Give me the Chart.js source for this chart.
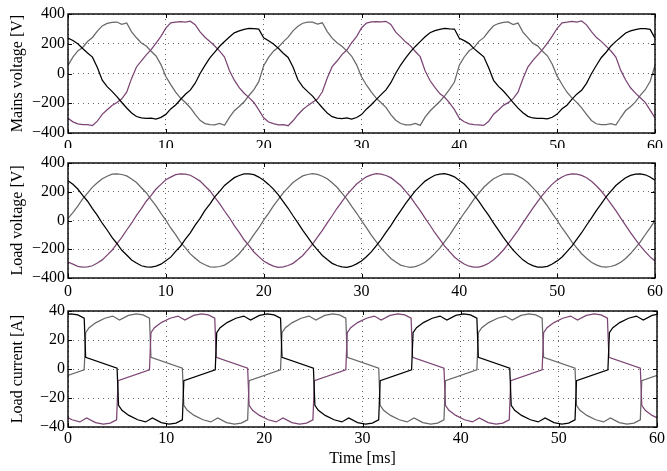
<!DOCTYPE html>
<html>
<head>
<meta charset="utf-8">
<script src="https://cdn.jsdelivr.net/npm/chart.js@4"></script>
<style>
    html, body { margin: 0; padding: 0; background: #fff; }
    #wrap { position: relative; width: 667px; height: 471px; }
    canvas { position: absolute; left: 0; }
</style>
</head>
<body>
<div id="wrap">
    <canvas id="mainsChart" width="667" height="148" style="top:0px"></canvas>
    <canvas id="loadChart" width="667" height="148" style="top:148px"></canvas>
    <canvas id="currentChart" width="667" height="175" style="top:296px"></canvas>
</div>
<script>
// time axis for the voltage traces [ms]
const tV = [
    0,0.5,1,1.5,2,2.5,3,3.5,4,4.5,5,5.5,6,6.5,7,7.5,8,8.5,9,9.5,
    10,10.5,11,11.5,12,12.5,13,13.5,14,14.5,15,15.5,16,16.5,17,17.5,18,18.5,19,19.5,
    20,20.5,21,21.5,22,22.5,23,23.5,24,24.5,25,25.5,26,26.5,27,27.5,28,28.5,29,29.5,
    30,30.5,31,31.5,32,32.5,33,33.5,34,34.5,35,35.5,36,36.5,37,37.5,38,38.5,39,39.5,
    40,40.5,41,41.5,42,42.5,43,43.5,44,44.5,45,45.5,46,46.5,47,47.5,48,48.5,49,49.5,
    50,50.5,51,51.5,52,52.5,53,53.5,54,54.5,55,55.5,56,56.5,57,57.5,58,58.5,59,59.5,
    60
];

// mains voltage [V]
const mainsBlack = [
    238,222,200,168,138,110,40,-45,-88,-120,-155,-195,-232,-265,-289,-298,-302,-300,-306,-295,
    -275,-238,-212,-175,-140,-112,-65,0,55,105,144,183,215,245,273,287,296,303,301,298,
    240,220,198,170,136,108,44,-42,-90,-122,-152,-192,-230,-266,-290,-300,-303,-298,-307,-296,
    -276,-240,-210,-176,-142,-110,-62,2,57,104,146,182,214,247,274,288,297,304,300,299,
    236,221,201,167,139,112,38,-46,-87,-118,-156,-196,-233,-264,-288,-299,-301,-302,-305,-294,
    -273,-237,-213,-174,-139,-113,-66,-2,54,106,143,185,216,244,272,286,295,302,302,297,
    238
];
const mainsGray = [
    55,110,152,175,215,242,285,320,337,344,346,330,340,280,240,205,185,150,118,60,
    -20,-75,-125,-165,-195,-230,-275,-315,-337,-344,-345,-336,-348,-295,-250,-222,-190,-148,-108,-55,
    52,108,150,177,213,244,287,318,338,345,345,332,341,282,238,207,183,152,116,58,
    -22,-77,-123,-166,-197,-228,-277,-314,-336,-345,-346,-335,-349,-293,-252,-220,-188,-150,-106,-57,
    56,111,153,174,216,241,284,321,336,343,347,329,339,278,241,204,186,149,119,62,
    -18,-74,-126,-164,-194,-231,-274,-316,-338,-343,-344,-337,-347,-296,-249,-223,-191,-147,-109,-54,
    55
];
const mainsPurple = [
    -300,-325,-338,-344,-344,-350,-320,-275,-244,-215,-195,-170,-125,-33,44,85,125,160,205,250,
    305,340,346,349,346,352,328,280,244,215,185,150,111,20,-45,-95,-133,-162,-195,-245,
    -298,-326,-337,-345,-343,-351,-318,-277,-242,-216,-193,-172,-123,-30,46,84,127,158,207,248,
    306,339,347,348,347,351,330,278,246,213,186,148,113,18,-47,-93,-135,-160,-197,-243,
    -301,-324,-339,-343,-345,-349,-321,-274,-245,-214,-196,-169,-126,-35,43,86,124,161,204,251,
    304,341,345,350,345,353,327,281,243,216,184,151,110,21,-44,-96,-132,-163,-194,-246,
    -299
];

// load voltage [V]
const loadBlack = [
    276,252,219,175,134,82,36,-19,-66,-118,-160,-207,-240,-275,-296,-315,-322,-325,-317,-304,
    -280,-255,-215,-179,-130,-86,-32,15,70,114,165,203,244,271,298,313,324,325,319,302,
    280,251,218,178,131,85,33,-16,-69,-115,-164,-204,-243,-272,-298,-313,-323,-326,-318,-302,
    -282,-252,-218,-176,-133,-83,-35,18,67,117,162,206,241,274,296,315,322,326,317,304,
    279,254,216,176,133,83,35,-18,-67,-117,-162,-206,-241,-274,-297,-314,-324,-324,-319,-303,
    -281,-254,-216,-178,-131,-85,-33,16,69,115,164,204,243,272,297,314,323,325,318,303,
    280
];
const loadGray = [
    15,55,100,150,190,232,262,291,308,322,325,320,310,289,264,228,193,146,102,49,
    2,-52,-99,-150,-190,-232,-262,-291,-308,-322,-325,-320,-310,-289,-262,-231,-189,-149,-98,-52,
    2,50,102,147,192,229,264,289,310,320,326,321,308,291,262,231,190,149,99,52,
    -1,-50,-102,-147,-192,-229,-264,-289,-310,-320,-326,-321,-308,-291,-263,-229,-192,-147,-101,-50,
    1,52,99,149,190,231,262,291,308,322,324,322,309,290,264,229,192,147,101,50,
    1,-52,-99,-149,-190,-231,-262,-290,-309,-321,-325,-320,-309,-290,-264,-230,-190,-149,-99,-51,
    0
];
const loadPurple = [
    -290,-304,-319,-325,-322,-315,-296,-274,-241,-207,-161,-118,-66,-19,36,82,134,175,219,251,
    283,302,319,325,322,315,296,274,240,207,161,118,66,19,-36,-82,-134,-175,-219,-251,
    -282,-302,-317,-326,-323,-313,-298,-272,-243,-204,-164,-115,-69,-16,33,85,131,178,216,254,
    280,304,317,326,323,313,298,272,243,204,164,115,69,16,-33,-85,-131,-178,-216,-254,
    -281,-303,-318,-325,-324,-314,-297,-273,-242,-205,-163,-116,-68,-17,34,84,132,177,217,253,
    281,303,318,325,323,314,297,273,242,205,163,116,68,17,-34,-84,-132,-177,-217,-253,
    -281
];

// load current [A] as [time ms, current A]
const curBlack = [
    [-0.5,37],[0.3,38],[1.0,37.3],[1.65,35],[1.8,8],[5.0,0.5],[5.15,-25],[5.5,-28.5],[6.2,-32],[7.1,-35],
    [7.9,-36.5],[8.6,-33.8],[9.5,-37],[10.3,-38],[11.0,-37.3],[11.65,-35],[11.8,-8],[15.0,-0.5],
    [15.15,25],[15.5,28.5],[16.2,32],[17.1,35],[17.9,36.5],[18.6,33.8],[19.5,37],[20.3,38],[21.0,37.3],[21.65,35],
    [21.8,8],[25.0,0.5],[25.15,-25],[25.5,-28.5],[26.2,-32],[27.1,-35],[27.9,-36.5],[28.6,-33.8],[29.5,-37],[30.3,-38],
    [31.0,-37.3],[31.65,-35],[31.8,-8],[35.0,-0.5],
    [35.15,25],[35.5,28.5],[36.2,32],[37.1,35],[37.9,36.5],[38.6,33.8],[39.5,37],[40.3,38],[41.0,37.3],[41.65,35],
    [41.8,8],[45.0,0.5],[45.15,-25],[45.5,-28.5],[46.2,-32],[47.1,-35],[47.9,-36.5],[48.6,-33.8],[49.5,-37],[50.3,-38],
    [51.0,-37.3],[51.65,-35],[51.8,-8],[55.0,-0.5],
    [55.15,25],[55.5,28.5],[56.2,32],[57.1,35],[57.9,36.5],[58.6,33.8],[59.5,37],[60.3,38]
];
const curGray = [
    [-1.7,-35],[-1.55,-8],[1.65,-0.5],
    [1.8,25],[2.15,28.5],[2.85,32],[3.75,35],[4.55,36.5],[5.25,33.8],[6.15,37],[6.95,38],[7.65,37.3],[8.3,35],
    [8.45,8],[11.65,0.5],[11.8,-25],[12.15,-28.5],[12.85,-32],[13.75,-35],[14.55,-36.5],[15.25,-33.8],[16.15,-37],[16.95,-38],
    [17.65,-37.3],[18.3,-35],[18.45,-8],[21.65,-0.5],
    [21.8,25],[22.15,28.5],[22.85,32],[23.75,35],[24.55,36.5],[25.25,33.8],[26.15,37],[26.95,38],[27.65,37.3],[28.3,35],
    [28.45,8],[31.65,0.5],[31.8,-25],[32.15,-28.5],[32.85,-32],[33.75,-35],[34.55,-36.5],[35.25,-33.8],[36.15,-37],[36.95,-38],
    [37.65,-37.3],[38.3,-35],[38.45,-8],[41.65,-0.5],
    [41.8,25],[42.15,28.5],[42.85,32],[43.75,35],[44.55,36.5],[45.25,33.8],[46.15,37],[46.95,38],[47.65,37.3],[48.3,35],
    [48.45,8],[51.65,0.5],[51.8,-25],[52.15,-28.5],[52.85,-32],[53.75,-35],[54.55,-36.5],[55.25,-33.8],[56.15,-37],[56.95,-38],
    [57.65,-37.3],[58.3,-35],[58.45,-8],[61.65,-0.5]
];
const curPurple = [
    [-1.2,-28.5],[-0.5,-32],[0.4,-35],[1.2,-36.5],[1.9,-33.8],[2.8,-37],[3.6,-38],[4.3,-37.3],[4.95,-35],[5.1,-8],[8.3,-0.5],
    [8.45,25],[8.8,28.5],[9.5,32],[10.4,35],[11.2,36.5],[11.9,33.8],[12.8,37],[13.6,38],[14.3,37.3],[14.95,35],
    [15.1,8],[18.3,0.5],[18.45,-25],[18.8,-28.5],[19.5,-32],[20.4,-35],[21.2,-36.5],[21.9,-33.8],[22.8,-37],[23.6,-38],
    [24.3,-37.3],[24.95,-35],[25.1,-8],[28.3,-0.5],
    [28.45,25],[28.8,28.5],[29.5,32],[30.4,35],[31.2,36.5],[31.9,33.8],[32.8,37],[33.6,38],[34.3,37.3],[34.95,35],
    [35.1,8],[38.3,0.5],[38.45,-25],[38.8,-28.5],[39.5,-32],[40.4,-35],[41.2,-36.5],[41.9,-33.8],[42.8,-37],[43.6,-38],
    [44.3,-37.3],[44.95,-35],[45.1,-8],[48.3,-0.5],
    [48.45,25],[48.8,28.5],[49.5,32],[50.4,35],[51.2,36.5],[51.9,33.8],[52.8,37],[53.6,38],[54.3,37.3],[54.95,35],
    [55.1,8],[58.3,0.5],[58.45,-25],[58.8,-28.5],[59.5,-32],[60.4,-35]
];

const BLACK = '#000000';
const GRAY = '#686868';
const PURPLE = '#7b4574';
const GRID = 'rgba(0,0,0,0.6)';

Chart.defaults.font.family = '"Liberation Serif", "Times New Roman", serif';
Chart.defaults.font.size = 16;
Chart.defaults.color = '#000';

function series(ts, vs) {
    return ts.map((t, i) => ({ x: t, y: vs[i] }));
}
function pairs(arr) {
    return arr.map(([x, y]) => ({ x, y }));
}
function lineSet(data, color) {
    return { data, borderColor: color, borderWidth: 1.25, pointRadius: 0, tension: 0, fill: false };
}

// box round the plot area with inward ticks, matlab style
const boxPlugin = {
    id: 'box',
    afterDatasetsDraw(chart) {
        const { ctx, chartArea: a, scales } = chart;
        const tl = 4;
        ctx.save();
        ctx.strokeStyle = '#000';
        ctx.lineWidth = 1;
        ctx.beginPath();
        scales.x.ticks.forEach(t => {
            const px = Math.round(scales.x.getPixelForValue(t.value)) + 0.5;
            ctx.moveTo(px, a.bottom); ctx.lineTo(px, a.bottom - tl);
            ctx.moveTo(px, a.top); ctx.lineTo(px, a.top + tl);
        });
        scales.y.ticks.forEach(t => {
            const py = Math.round(scales.y.getPixelForValue(t.value)) + 0.5;
            ctx.moveTo(a.left, py); ctx.lineTo(a.left + tl, py);
            ctx.moveTo(a.right, py); ctx.lineTo(a.right - tl, py);
        });
        ctx.stroke();
        ctx.lineWidth = 1.4;
        ctx.strokeRect(a.left, a.top, a.right - a.left, a.bottom - a.top);
        ctx.restore();
    }
};

function makePanel(id, datasets, yMin, yMax, yStep, yTitle, padTop, xHeight, tickPad, withTime) {
    return new Chart(document.getElementById(id), {
        type: 'line',
        data: { datasets },
        options: {
            responsive: false,
            animation: false,
            layout: { padding: { left: 0, right: 9, top: padTop, bottom: 0 } },
            plugins: { legend: { display: false }, tooltip: { enabled: false } },
            scales: {
                x: {
                    type: 'linear',
                    min: 0,
                    max: 60,
                    ticks: { stepSize: 10, padding: tickPad, maxRotation: 0, autoSkip: false },
                    grid: { color: GRID, lineWidth: 1, drawTicks: false },
                    border: { display: false, dash: [1, 4] },
                    title: { display: withTime, text: 'Time [ms]', padding: { top: 0, bottom: 3 } },
                    afterFit: s => { s.height = xHeight; }
                },
                y: {
                    min: yMin,
                    max: yMax,
                    ticks: {
                        stepSize: yStep,
                        padding: 3,
                        callback: v => String(v).replace('-', '\u2212')
                    },
                    grid: { color: GRID, lineWidth: 1, drawTicks: false },
                    border: { display: false, dash: [1, 4] },
                    title: { display: true, text: yTitle, padding: { top: 8, bottom: 0 } },
                    afterFit: s => { s.width = 68; }
                }
            }
        },
        plugins: [boxPlugin]
    });
}

makePanel('mainsChart', [
    lineSet(series(tV, mainsBlack), BLACK),
    lineSet(series(tV, mainsPurple), PURPLE),
    lineSet(series(tV, mainsGray), GRAY)
], -400, 400, 200, 'Mains voltage [V]', 14, 15, 4, false);

makePanel('loadChart', [
    lineSet(series(tV, loadBlack), BLACK),
    lineSet(series(tV, loadPurple), PURPLE),
    lineSet(series(tV, loadGray), GRAY)
], -400, 400, 200, 'Load voltage [V]', 15, 18, 4, false);

makePanel('currentChart', [
    lineSet(pairs(curBlack), BLACK),
    lineSet(pairs(curPurple), PURPLE),
    lineSet(pairs(curGray), GRAY)
], -40, 40, 20, 'Load current [A]', 15, 44, 2, true);
</script>
</body>
</html>
